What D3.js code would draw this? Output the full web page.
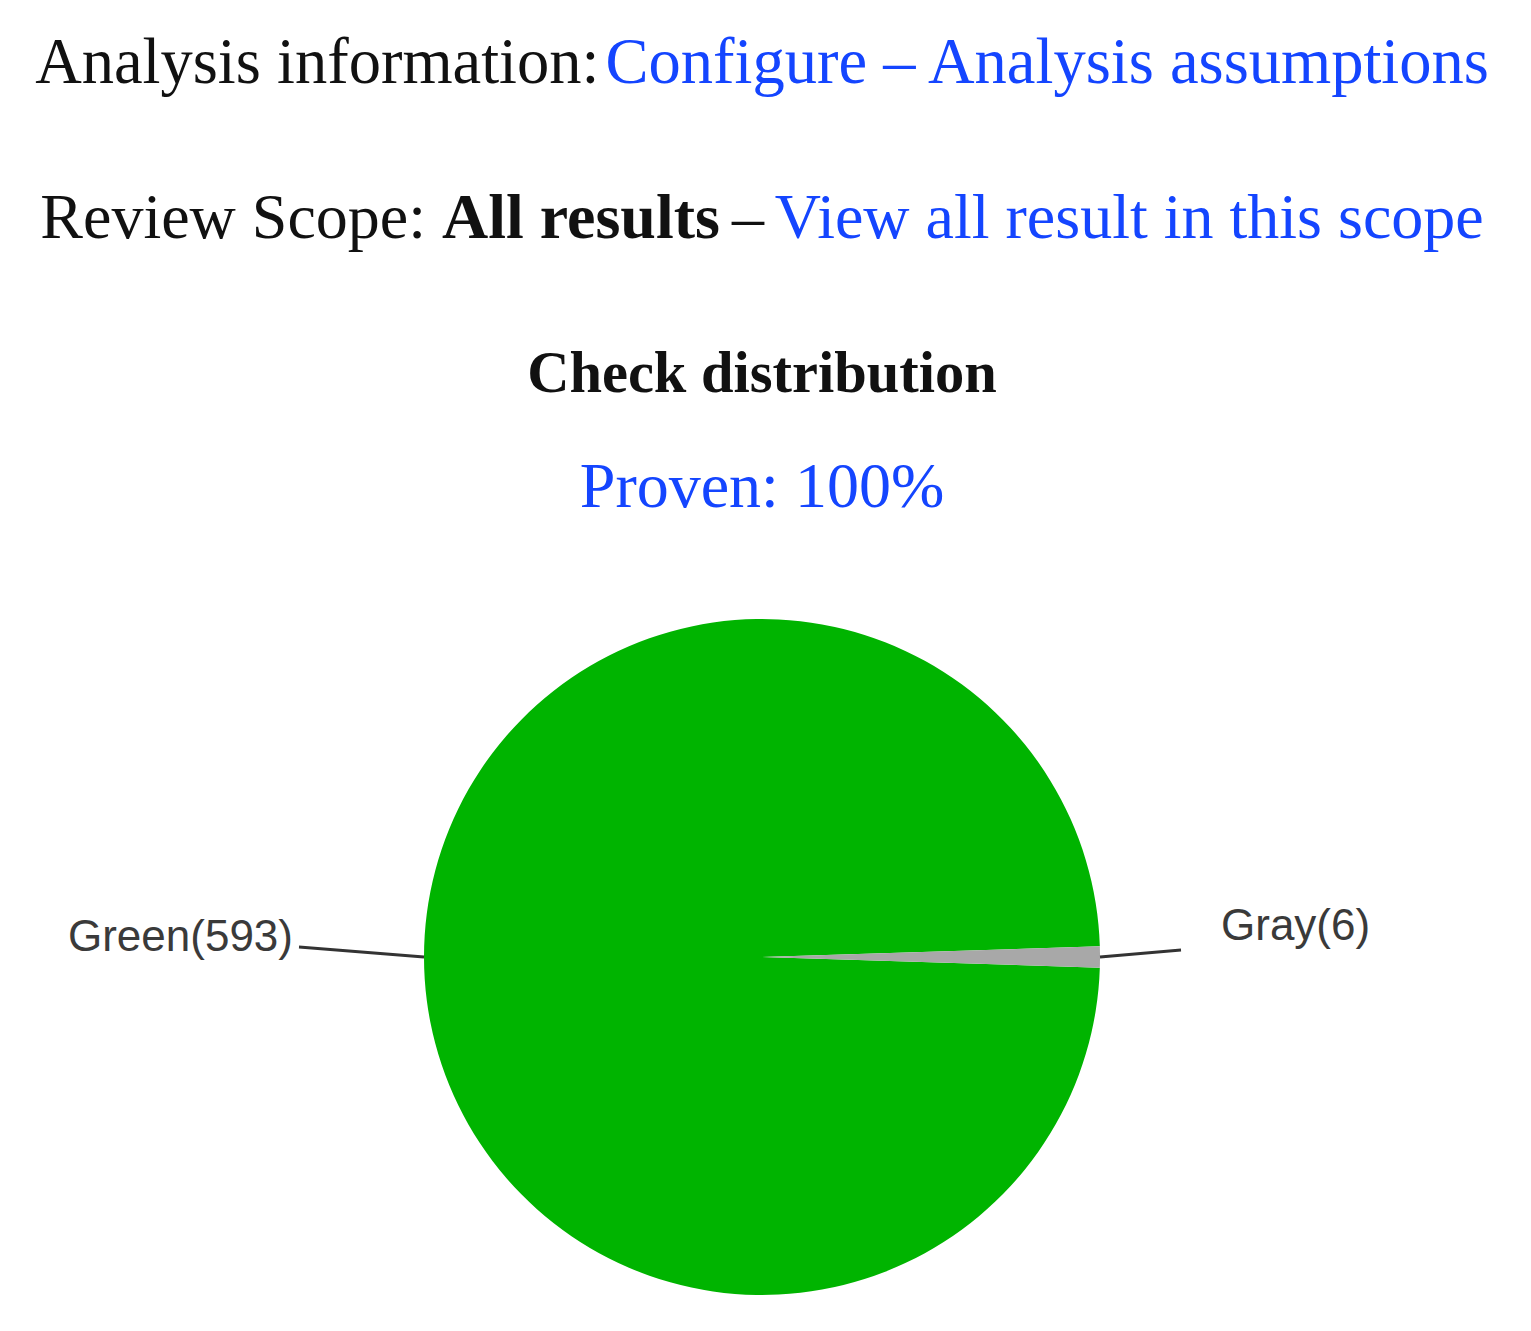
<!DOCTYPE html>
<html lang="en">
<head>
<meta charset="utf-8">
<title>Check distribution</title>
<style>
  body { margin: 0; background: #fff; }
  .hdr { font-family: "Liberation Serif", "Times New Roman", serif; }
  .lbl { font-family: "Liberation Sans", Arial, sans-serif; font-size: 44px; fill: #3a3a3a; }
</style>
</head>
<body>
<script src="https://cdn.jsdelivr.net/npm/d3@7"></script>
<script>

// data
var categories = ["Green", "Gray"];
var counts = [593, 6];
var colors = ["#00b400", "#a8a8a8"];
var provenPct = 100;

var w = 1531;
var h = 1331;
var cx = 762;
var cy = 957;
var radius = 338;
var link = "#1445ff";

var svg = d3.select("body").append("svg")
  .attr("width", w)
  .attr("height", h);

// header lines
var t1 = svg.append("text").attr("class", "hdr")
  .attr("x", cx).attr("y", 83)
  .attr("text-anchor", "middle")
  .attr("font-size", 64.5);
t1.append("tspan").attr("fill", "#111").text("Analysis information: ");
t1.append("tspan").attr("fill", link).attr("dx", -10).text("Configure \u2013 Analysis assumptions");

var t2 = svg.append("text").attr("class", "hdr")
  .attr("x", cx).attr("y", 238)
  .attr("text-anchor", "middle")
  .attr("font-size", 64);
t2.append("tspan").attr("fill", "#111").text("Review Scope: ");
t2.append("tspan").attr("fill", "#111").attr("font-weight", "bold").text("All results");
t2.append("tspan").attr("fill", "#111").attr("dx", -4).text(" \u2013 ");
t2.append("tspan").attr("fill", link).attr("dx", -4).text("View all result in this scope");

svg.append("text").attr("class", "hdr")
  .attr("x", cx).attr("y", 392)
  .attr("text-anchor", "middle")
  .attr("font-size", 58.5)
  .attr("font-weight", "bold")
  .attr("fill", "#111")
  .text("Check distribution");

svg.append("text").attr("class", "hdr")
  .attr("x", cx).attr("y", 507)
  .attr("text-anchor", "middle")
  .attr("font-size", 64)
  .attr("fill", link)
  .text("Proven: " + provenPct + "%");

// pie
var total = d3.sum(counts);
var a0 = Math.PI / 2 + (counts[1] / total) * Math.PI;

var pie = d3.pie()
  .sort(null)
  .startAngle(a0)
  .endAngle(a0 + 2 * Math.PI);

var arc = d3.arc().innerRadius(0).outerRadius(radius);

var slices = pie(counts);

var g = svg.append("g")
  .attr("transform", "translate(" + cx + "," + cy + ")");

g.selectAll("path")
  .data(slices)
  .enter().append("path")
  .attr("d", arc)
  .attr("fill", function(d, i) { return colors[i]; });

// leader lines + labels
var lineLen = [125, 81];
var lineRise = [10, 7];

slices.forEach(function(d, i) {
  var mid = (d.startAngle + d.endAngle) / 2;
  var sx = radius * Math.sin(mid);
  var sy = -radius * Math.cos(mid);
  var side = sx < 0 ? -1 : 1;
  var ex = side * (radius + lineLen[i]);
  var ey = sy - lineRise[i];

  g.append("line")
    .attr("x1", sx).attr("y1", sy)
    .attr("x2", ex).attr("y2", ey)
    .attr("stroke", "#333")
    .attr("stroke-width", 3);

  g.append("text").attr("class", "lbl")
    .attr("x", side < 0 ? ex - 6 : ex + 40)
    .attr("y", side < 0 ? ey + 4 : ey - 10)
    .attr("text-anchor", side < 0 ? "end" : "start")
    .text(categories[i] + "(" + counts[i] + ")");
});

</script>
</body>
</html>
